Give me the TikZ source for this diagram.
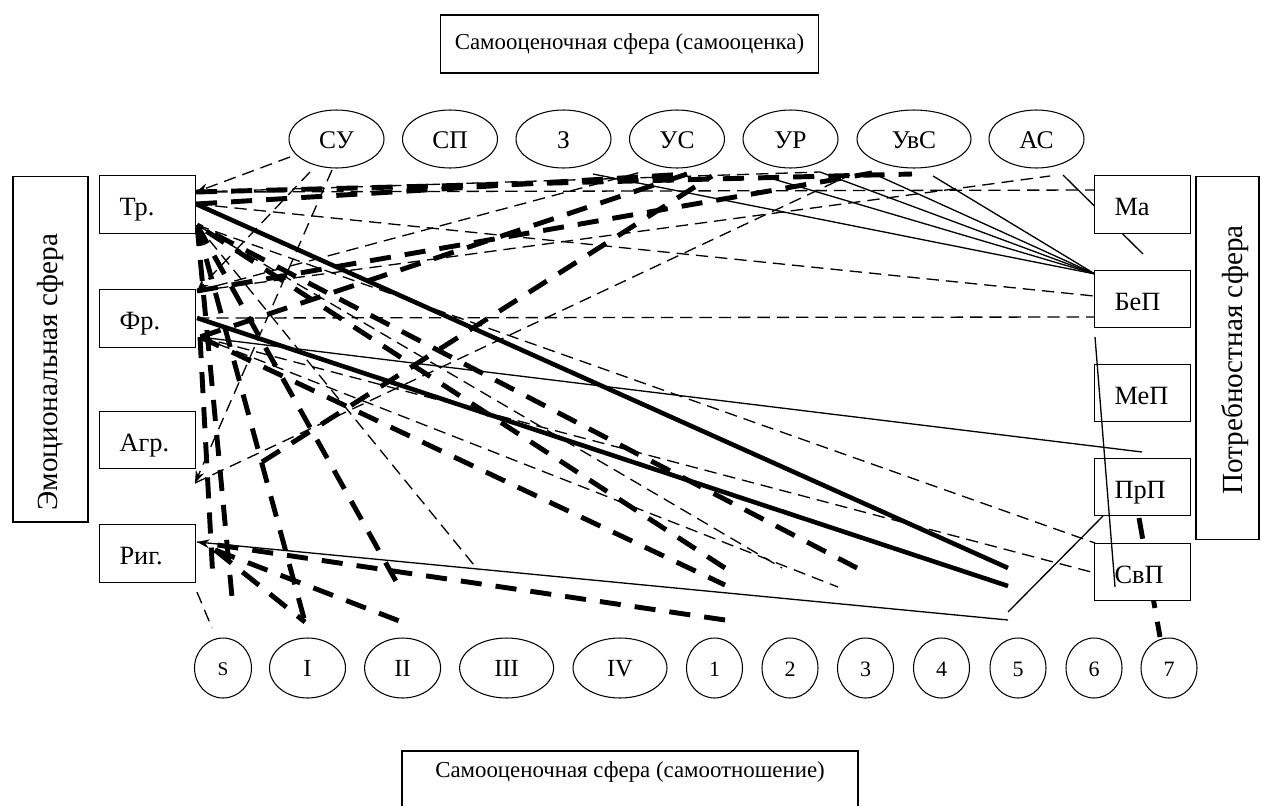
\documentclass[tikz,border=0pt]{standalone}
\usepackage{fontspec}
\setmainfont{Liberation Serif}
\usetikzlibrary{shapes.geometric,arrows.meta}

\begin{document}
\begin{tikzpicture}[x=0.02cm,y=-0.02cm,
  box/.style={draw, line width=0.6pt, fill=white, inner ysep=0pt, inner xsep=0.4cm,
    minimum width=1.92cm, minimum height=1.15cm, text width=1.12cm, align=left,
    text height=12.6pt, text depth=0pt, font=\fontsize{15}{18}\selectfont},
  bigbox/.style={draw, line width=0.6pt, fill=white, inner sep=0pt},
  ell/.style={draw, ellipse, line width=0.6pt, fill=white, inner sep=0pt,
    minimum height=1.16cm, minimum width=1.9cm, text height=10.4pt, text depth=0pt,
    font=\fontsize{14.5}{17}\selectfont},
  bell/.style={draw, ellipse, line width=0.6pt, fill=white, inner sep=0pt,
    minimum height=1.2cm, minimum width=1.12cm, text height=9.4pt, text depth=0pt,
    font=\fontsize{12.5}{15}\selectfont},
  thind/.style={line width=0.75pt, dash pattern=on 7pt off 4pt},
  thickd/.style={line width=2.8pt, dash pattern=on 12pt off 8pt},
  thins/.style={line width=0.75pt},
  thicks/.style={line width=2.6pt},
  tip/.style={-{Stealth[length=7pt,width=5pt]}}
]
\clip (0,0) rectangle (1261,805);
\fill[white] (0,0) rectangle (1261,805);

% ---- attachment points on the left boxes
\coordinate (tA) at (196,192);
\coordinate (tB) at (196,204);
\coordinate (tC) at (197,225);
\coordinate (fA) at (197,291);
\coordinate (fB) at (197,318);
\coordinate (fC) at (200,337);
\coordinate (aA) at (195,483);
\coordinate (rA) at (197,542);
\coordinate (rB) at (215,550);
\coordinate (rC) at (197,592);
% ---- attachment points under the upper ellipses
\coordinate (suA) at (290,157);
\coordinate (suB) at (332,170);
\coordinate (suC) at (310,172);
\coordinate (zA) at (593,174);
\coordinate (usL) at (645,171);
\coordinate (usA) at (687,174);
\coordinate (usB) at (712,176);
\coordinate (urA) at (763,176);
\coordinate (urB) at (820,172);
\coordinate (uvA) at (850,175);
\coordinate (uvB) at (872,173);
\coordinate (uvC) at (912,174);
\coordinate (uvD) at (933,176);
\coordinate (asA) at (1050,176);
\coordinate (asB) at (1063,175);
% ---- attachment points on the right boxes
\coordinate (maL) at (1095,190);
\coordinate (maX) at (1143,254);
\coordinate (bep1) at (1095,274);
\coordinate (bepD) at (1094,296);
\coordinate (bepF) at (1094,317);
\coordinate (bepB) at (1095,337);
\coordinate (prp) at (1142,452);
\coordinate (prpB) at (1103,516);
\coordinate (prpC) at (1139,518);
\coordinate (svA) at (1095,543);
\coordinate (svB) at (1095,573);
\coordinate (svC) at (1115,587);
\coordinate (sev) at (1160,637);
% ---- loose ends in the lower field
\coordinate (e5a) at (1008,568);
\coordinate (e5b) at (1008,586);
\coordinate (e5c) at (1008,612);
\coordinate (e5d) at (1008,620);
\coordinate (q1) at (725,568);
\coordinate (q2) at (725,585);
\coordinate (q3) at (725,620);
\coordinate (q4) at (857,568);
\coordinate (q5) at (782,568);
\coordinate (q6) at (838,587);
\coordinate (q7) at (478,570);
\coordinate (q8) at (232,597);
\coordinate (q9) at (213,580);
\coordinate (q10) at (305,622);
\coordinate (q11) at (402,622);
\coordinate (q12) at (402,592);
\coordinate (q13) at (212,628);
\coordinate (q14) at (262,462);

% ---- thin dashed links
\draw[thind,tip] (suA) -- (tA);
\draw[thind,tip] (suB) -- (aA);
\draw[thind,tip] (suC) -- (fA);
\draw[thind] (tA) -- (urB);
\draw[thind] (tA) -- (maL);
\draw[thind] (tB) -- (bepD);
\draw[thind] (fA) -- (asA);
\draw[thind] (fA) -- (usL);
\draw[thind] (aA) -- (uvA);
\draw[thind] (tC) -- (svA);
\draw[thind] (fB) -- (bepF);
\draw[thind] (fC) -- (svB);
\draw[thind] (tC) -- (q5);
\draw[thind] (fC) -- (q6);
\draw[thind] (tC) -- (q7);
\draw[thind] (rC) -- (q13);

% ---- thick dashed links
\draw[thickd] (tA) -- (uvC);
\draw[thickd] (tB) -- (usA);
\draw[thickd] (fA) -- (uvB);
\draw[thickd] (usA) -- (fC);
\draw[thickd] (q14) -- (usB);
\draw[thickd] (q4) -- (tC);
\draw[thickd] (q1) -- (tC);
\draw[thickd] (fC) -- (q2);
\draw[thickd,tip] (q3) -- (rA);
\draw[thickd] (rB) -- (q10);
\draw[thickd] (rB) -- (q11);
\draw[thickd] (tC) -- (q8);
\draw[thickd] (fC) -- (q9);
\draw[thickd] (tC) -- (q10);
\draw[thickd] (tC) -- (q12);
\draw[thickd] (prpC) -- (sev);

% ---- thin solid links
\draw[thins] (zA) -- (bep1);
\draw[thins] (urA) -- (bep1);
\draw[thins] (urB) -- (bep1);
\draw[thins] (uvB) -- (bep1);
\draw[thins] (uvD) -- (bep1);
\draw[thins] (asB) -- (maX);
\draw[thins] (fC) -- (prp);
\draw[thins] (rA) -- (e5d);
\draw[thins] (e5c) -- (prpB);

% ---- thick solid links
\draw[thicks] (tB) -- (e5a);
\draw[thicks] (fB) -- (e5b);

% ---- titles
\node[bigbox, minimum width=7.58cm, minimum height=1.16cm,
  font=\fontsize{13}{16}\selectfont] (top) at (629.5,44)
  {Самооценочная сфера (самооценка)};
\draw[line width=0.6pt, fill=white] (402,751) rectangle (858,830);
\node[font=\fontsize{13}{16}\selectfont] (bot) at (630,772)
  {Самооценочная сфера (самоотношение)};

% ---- emotional sphere
\node[bigbox, minimum width=1.5cm, minimum height=6.92cm] (emo) at (50.5,349) {};
\node[rotate=90, font=\fontsize{16.6}{20}\selectfont] (emot) at (50.5,372) {Эмоциональная сфера};
\node[box] (tr)  at (147.5,204.5) {Тр.};
\node[box] (fr)  at (147.5,318.5) {Фр.};
\node[box] (agr) at (147.5,440) {Агр.};
\node[box] (rig) at (147.5,553.5) {Риг.};

% ---- need sphere
\node[bigbox, minimum width=1.26cm, minimum height=7.28cm] (need) at (1227.5,358) {};
\node[rotate=90, font=\fontsize{16.6}{20}\selectfont] (needt) at (1235,360) {Потребностная сфера};
\node[box, minimum width=1.9cm] (ma)  at (1142.5,204.5) {Ма};
\node[box, minimum width=1.9cm] (bep) at (1142.5,299) {БеП};
\node[box, minimum width=1.9cm] (mep) at (1142.5,393) {МеП};
\node[box, minimum width=1.9cm] (prpn) at (1142.5,487) {ПрП};
\node[box, minimum width=1.9cm] (svp) at (1142.5,572) {СвП};

% ---- upper ellipses
\node[ell] (su) at (336.5,139) {СУ};
\node[ell] (sp) at (450,139) {СП};
\node[ell] (z)  at (563.5,139) {З};
\node[ell] (us) at (677,139) {УС};
\node[ell] (ur) at (790.5,139) {УР};
\node[ell, minimum width=2.28cm] (uvs) at (914,139) {УвС};
\node[ell] (as) at (1036.5,139) {АС};

% ---- lower ellipses
\node[bell, minimum width=1.14cm, font=\fontsize{11}{13}\selectfont, text height=8.2pt] (bS) at (223,668) {S};
\node[bell, minimum width=1.52cm, font=\fontsize{14}{16}\selectfont, text height=10pt] (bI) at (307.5,668) {I};
\node[bell, minimum width=1.52cm, font=\fontsize{14}{16}\selectfont, text height=10pt] (bII) at (402.6,668) {II};
\node[bell, minimum width=1.88cm, font=\fontsize{14}{16}\selectfont, text height=10pt] (bIII) at (506.6,668) {III};
\node[bell, minimum width=1.88cm, font=\fontsize{14}{16}\selectfont, text height=10pt] (bIV) at (620,668) {IV};
\node[bell] (b1) at (714.5,668) {1};
\node[bell] (b2) at (790,668) {2};
\node[bell] (b3) at (865.5,668) {3};
\node[bell] (b4) at (941.5,668) {4};
\node[bell] (b5) at (1018,668) {5};
\node[bell] (b6) at (1094,668) {6};
\node[bell] (b7) at (1169,668) {7};

% ---- line laid over the need boxes
\draw[thins] (bepB) -- (svC);
\end{tikzpicture}
\end{document}
